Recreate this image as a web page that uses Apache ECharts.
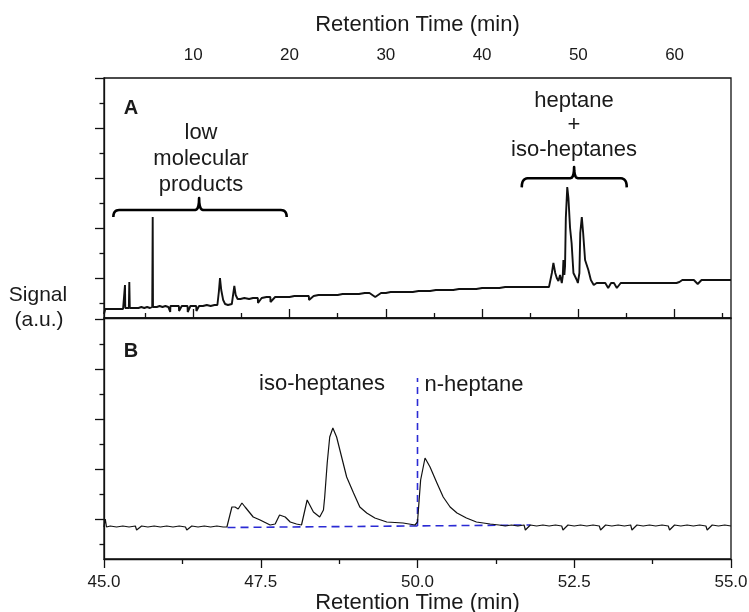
<!DOCTYPE html>
<html>
<head>
<meta charset="utf-8">
<script src="https://cdn.jsdelivr.net/npm/echarts@6/dist/echarts.min.js"></script>
<style>
html,body{margin:0;padding:0;background:#fff;}
#chart{width:749px;height:612px;}
</style>
</head>
<body>
<div id="chart"></div>
<script>
// ---------------- data ----------------
// Panel A: full chromatogram (retention time in min, signal in a.u.)
const timeA = [0.72,0.85,1.0,1.1,1.2,1.35,1.5,1.6,1.75,1.9,2.1,2.3,2.5,2.7,2.87,2.9,2.93,3.1,3.3,3.35,3.4,3.6,3.8,4.0,4.3,4.6,4.9,5.2,5.5,5.73,5.76,5.78,5.81,5.9,6.2,6.5,6.8,7.1,7.4,7.6,7.62,7.9,8.2,8.5,8.52,8.8,9.1,9.4,9.42,9.7,10.0,10.3,10.32,10.6,11.0,11.4,11.8,12.2,12.5,12.65,12.77,12.9,13.1,13.3,13.6,14.0,14.18,14.26,14.4,14.6,14.9,15.3,15.8,16.2,16.7,16.72,17.1,17.6,18.0,18.02,18.5,19.0,19.5,20.0,20.5,21.0,21.6,22.0,22.02,22.5,23.0,23.5,24.0,24.5,25.0,25.5,26.0,26.6,27.2,27.8,28.3,28.32,28.9,29.5,30.0,30.5,31.1,31.7,32.2,32.8,33.4,34.0,34.6,35.2,35.8,36.4,37.0,37.6,38.2,38.8,39.4,40.0,40.6,41.2,41.8,42.4,43.0,43.6,44.2,44.8,45.4,46.0,46.5,46.95,47.05,47.14,47.25,47.41,47.6,47.76,47.93,48.1,48.28,48.38,48.45,48.55,48.62,48.7,48.85,48.97,49.14,49.3,49.49,49.84,49.95,50.05,50.11,50.2,50.36,50.5,50.7,51.04,51.3,51.6,51.9,52.2,52.5,52.52,52.8,53.1,53.4,53.42,53.7,54.0,54.4,54.8,55.2,55.6,56.0,56.5,57.0,57.5,58.0,58.5,59.0,59.5,59.85,59.9,60.2,60.5,60.8,61.1,61.4,61.42,61.7,62.0,62.4,62.8,63.2,63.6,64.0,64.4,64.8,65.2,65.6,65.86];
const signalA = [4,9,10,9,10,9,10,9,10,9,10,9,10,9,10,33,10,10,10,36,10,11,10,11,10,11,10,11,10,11,62,101,11,12,11,12,11,12,11,6,12,12,12,12,7,12,12,12,6,12,12,12,7,12,12,13,12,13,13,26,40,28,18,14,13,14,14,32,23,19,19,20,19,20,20,15,20,21,21,16,21,21,21,21,22,22,22,22,18,22,23,23,23,23,23,24,24,24,24,25,25,25,21,25,25,26,26,26,26,26,27,27,27,28,28,28,28,29,29,29,29,30,30,30,30,31,31,31,31,31,31,31,31,31,31,32,45,55,45,40,37,43,35,42,58,43,52,100,131,120,90,75,45,38,35,33,45,85,101,85,58,48,38,33,35,35,35,35,35,30,35,35,35,30,35,35,35,35,35,35,35,35,35,35,35,35,35,35,35,36,38,38,38,38,38,38,34,38,38,38,38,38,38,38,38,38,38,38,38,38];

// Panel B: zoom of the heptane region
const timeB = [45.0,45.02,45.04,45.1,45.2,45.3,45.4,45.5,45.52,45.6,45.7,45.8,45.9,46.0,46.1,46.2,46.3,46.32,46.4,46.5,46.6,46.7,46.8,46.9,46.96,47.04,47.09,47.14,47.2,47.25,47.38,47.49,47.65,47.73,47.8,47.89,47.97,48.07,48.15,48.24,48.34,48.44,48.5,48.52,48.56,48.6,48.65,48.71,48.79,48.87,48.98,49.08,49.19,49.32,49.51,49.77,49.96,50.0,50.05,50.12,50.2,50.31,50.41,50.52,50.63,50.78,50.94,51.16,51.3,51.4,51.5,51.6,51.7,51.72,51.8,51.9,52.0,52.1,52.2,52.3,52.32,52.4,52.5,52.6,52.7,52.8,52.9,52.92,53.0,53.1,53.2,53.3,53.4,53.42,53.5,53.6,53.7,53.8,53.9,54.0,54.02,54.1,54.2,54.3,54.4,54.5,54.6,54.62,54.7,54.8,54.9,55.0];
const signalB = [32,40,32,33,32,33,32,33,29,33,32,33,32,33,32,33,32,29,33,32,33,32,33,32,32,52,52,50,56,52,42,39,34,35,44,42,37,35,34,59,47,42,49,62,96,122,131,122,102,82,66,52,46,41,37,36,34,37,79,101,92,76,62,52,46,41,37,35,34,33,34,33,34,29,34,33,34,33,34,33,29,34,33,34,33,34,33,29,34,33,34,33,34,29,34,33,34,33,34,33,29,34,33,34,33,34,33,29,34,33,34,33];

// dashed integration guides in panel B
const guideBaseTime = [46.97, 51.8];
const guideBaseSignal = [31.5, 34];
const guideVertTime = [50.0, 50.0];
const guideVertSignal = [33, 181];

// ticks
const topMajorTicks = [10,20,30,40,50,60];
const topMinorTicks = [5,15,25,35,45,55,65];
const yMajorTicks = [40,90,140,190,240];
const yMinorTicks = [15,65,115,165,215];

// ---------------- chart ----------------
const FONT = 'Arial, "Liberation Sans", sans-serif';
const INK = '#1a1a1a';
const chart = echarts.init(document.getElementById('chart'), null, {renderer:'canvas'});

const zip = (a, b) => a.map((v, i) => [v, b[i]]);

const gridL = 104, gridW = 627;
const axisLineStyle = {color: '#111', width: 1.3};

const option = {
  animation: false,
  backgroundColor: '#fff',
  grid: [
    {left: gridL, top: 78, width: gridW, height: 240, show: true, borderColor: '#111', borderWidth: 1.3,
     backgroundColor: 'transparent', containLabel: false, outerBoundsMode: 'none'},
    {left: gridL, top: 318, width: gridW, height: 241, show: true, borderColor: '#111', borderWidth: 1.3,
     backgroundColor: 'transparent', containLabel: false, outerBoundsMode: 'none'}
  ],
  xAxis: [
    {gridIndex: 0, type: 'value', position: 'top', min: 0.72, max: 65.86,
     name: 'Retention Time (min)', nameLocation: 'middle', nameGap: 42,
     nameTextStyle: {fontFamily: FONT, fontSize: 22, color: INK},
     axisLine: {show: true, lineStyle: axisLineStyle},
     axisTick: {show: true, inside: false, length: 9, customValues: topMajorTicks, lineStyle: axisLineStyle},
     axisLabel: {show: true, customValues: topMajorTicks, margin: 14, fontFamily: FONT, fontSize: 17, color: INK},
     splitLine: {show: false}},
    {gridIndex: 0, type: 'value', position: 'top', min: 0.72, max: 65.86,
     axisLine: {show: false},
     axisTick: {show: true, inside: false, length: 5, customValues: topMinorTicks, lineStyle: axisLineStyle},
     axisLabel: {show: false}, splitLine: {show: false}},
    {gridIndex: 1, type: 'value', position: 'bottom', min: 45, max: 55, interval: 2.5,
     name: 'Retention Time (min)', nameLocation: 'middle', nameGap: 30,
     nameTextStyle: {fontFamily: FONT, fontSize: 22, color: INK},
     axisLine: {show: true, lineStyle: axisLineStyle},
     axisTick: {show: true, inside: false, length: 9, lineStyle: axisLineStyle},
     minorTick: {show: true, splitNumber: 2, length: 5, lineStyle: axisLineStyle},
     axisLabel: {show: true, margin: 15, fontFamily: FONT, fontSize: 17, color: INK,
                 formatter: v => v.toFixed(1)},
     splitLine: {show: false}, minorSplitLine: {show: false}}
  ],
  yAxis: [
    {gridIndex: 0, type: 'value', min: 0, max: 240, position: 'left',
     axisLine: {show: true, lineStyle: axisLineStyle},
     axisTick: {show: true, inside: false, length: 9, customValues: yMajorTicks, lineStyle: axisLineStyle},
     axisLabel: {show: false}, splitLine: {show: false}},
    {gridIndex: 0, type: 'value', min: 0, max: 240, position: 'left',
     axisLine: {show: false},
     axisTick: {show: true, inside: false, length: 4.5, customValues: yMinorTicks, lineStyle: axisLineStyle},
     axisLabel: {show: false}, splitLine: {show: false}},
    {gridIndex: 1, type: 'value', min: 0, max: 241, position: 'left',
     axisLine: {show: true, lineStyle: axisLineStyle},
     axisTick: {show: true, inside: false, length: 9, customValues: yMajorTicks, lineStyle: axisLineStyle},
     axisLabel: {show: false}, splitLine: {show: false}},
    {gridIndex: 1, type: 'value', min: 0, max: 241, position: 'left',
     axisLine: {show: false},
     axisTick: {show: true, inside: false, length: 4.5, customValues: yMinorTicks, lineStyle: axisLineStyle},
     axisLabel: {show: false}, splitLine: {show: false}}
  ],
  series: [
    {type: 'line', xAxisIndex: 0, yAxisIndex: 0, data: zip(timeA, signalA),
     showSymbol: false, symbol: 'none', lineStyle: {color: '#111', width: 1.9}, z: 3},
    {type: 'line', xAxisIndex: 2, yAxisIndex: 2, data: zip(guideBaseTime, guideBaseSignal),
     showSymbol: false, symbol: 'none', lineStyle: {color: '#2b2bd4', width: 1.6, type: [8, 5]}, z: 2},
    {type: 'line', xAxisIndex: 2, yAxisIndex: 2, data: zip(guideVertTime, guideVertSignal),
     showSymbol: false, symbol: 'none', lineStyle: {color: '#2b2bd4', width: 1.6, type: [7, 5]}, z: 2},
    {type: 'line', xAxisIndex: 2, yAxisIndex: 2, data: zip(timeB, signalB),
     showSymbol: false, symbol: 'none', lineStyle: {color: '#111', width: 1.2}, z: 3}
  ]
};
chart.setOption(option);

// ---------------- annotations ----------------
function txt(text, x, y, size, bold) {
  return {type: 'text', z: 10, style: {text: text, x: x, y: y, align: 'center', verticalAlign: 'middle',
    fill: INK, fontFamily: FONT, fontSize: size, fontWeight: bold ? 'bold' : 'normal'}};
}
function quad(p0, c, p1, n) {
  const out = [];
  for (let i = 1; i <= n; i++) {
    const s = i / n, u = 1 - s;
    out.push([u * u * p0[0] + 2 * u * s * c[0] + s * s * p1[0], u * u * p0[1] + 2 * u * s * c[1] + s * s * p1[1]]);
  }
  return out;
}
function bracket(t1, t2, tc, vLine, vEnd, vTip) {
  const p = (t, v) => chart.convertToPixel({xAxisIndex: 0, yAxisIndex: 0}, [t, v]);
  const a = p(t1, vEnd), b = p(t1, vLine), c = p(tc, vLine), d = p(tc, vTip), e = p(t2, vLine);
  const x1 = a[0], yE = a[1], yL = b[1], xc = c[0], yT = d[1], x2 = e[0];
  const r = 6, rt = 4;
  let pts = [[x1, yE]];
  pts = pts.concat(quad([x1, yE], [x1, yL], [x1 + r, yL], 6));
  pts.push([xc - rt, yL]);
  pts = pts.concat(quad([xc - rt, yL], [xc, yL], [xc, yT], 5));
  pts = pts.concat(quad([xc, yT], [xc, yL], [xc + rt, yL], 5));
  pts.push([x2 - r, yL]);
  pts = pts.concat(quad([x2 - r, yL], [x2, yL], [x2, yE], 6));
  return {type: 'polyline', z: 10, shape: {points: pts}, style: {stroke: '#000', lineWidth: 2.6, fill: null, lineJoin: 'round'}};
}

chart.setOption({
  graphic: [
    txt('A', 131, 108, 20, true),
    txt('B', 131, 351, 20, true),
    txt('low', 201, 133, 22),
    txt('molecular', 201, 159, 22),
    txt('products', 201, 185, 22),
    txt('heptane', 574, 101, 22),
    txt('+', 574, 125, 22),
    txt('iso-heptanes', 574, 150, 22),
    txt('iso-heptanes', 322, 384, 22),
    txt('n-heptane', 474, 385, 22),
    txt('Signal', 38, 295, 21),
    txt('(a.u.)', 39, 320, 21),
    bracket(1.69, 19.7, 10.6, 108, 101, 120),
    bracket(44.12, 55.03, 49.56, 139.7, 130.7, 151)
  ]
});
</script>
</body>
</html>
